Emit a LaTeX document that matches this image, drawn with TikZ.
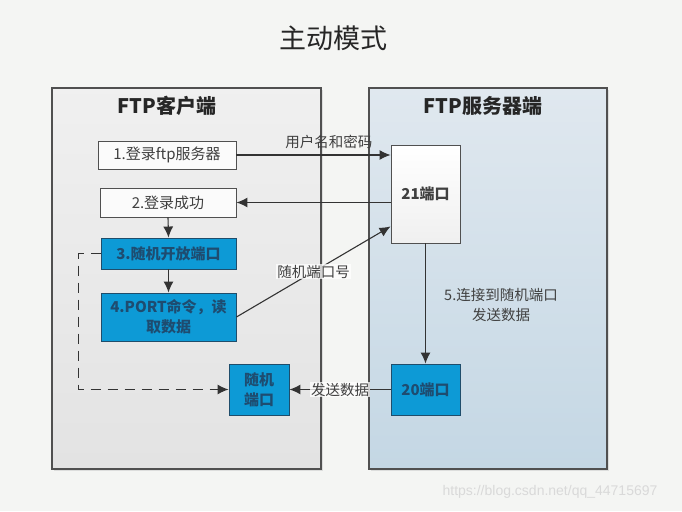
\documentclass[tikz,border=0pt]{standalone}
\usepackage{fontspec}
\setmainfont{Noto Sans CJK SC}
\newfontfamily\markfont{Liberation Sans}
\usepackage{tikz}
\usetikzlibrary{calc,positioning,arrows.meta,shadows}
\definecolor{pagebg}{HTML}{F4F5F3}
\definecolor{edgegray}{HTML}{505050}
\definecolor{portblue}{HTML}{0D9AD6}
\definecolor{portedge}{HTML}{1F4D6B}
\definecolor{txtblue}{HTML}{1E4C70}

\begin{document}
\begin{tikzpicture}[
    x=1pt, y=-1pt,
    panel/.style={draw=edgegray, line width=1.2pt, inner sep=0pt, drop shadow={opacity=0.2, shadow xshift=2pt, shadow yshift=-2pt}},
    whitebox/.style={draw=edgegray, fill=white!97!gray, line width=0.9pt, inner sep=2pt, align=center, font=\fontsize{15}{18}\selectfont, text=black!75},
    bluebox/.style={draw=portedge, fill=portblue, line width=0.9pt, inner sep=2pt, align=center, font=\fontsize{15}{20}\selectfont\bfseries, text=txtblue},
    arrow/.style={-{Latex[length=11pt,width=10pt]}, line width=1.1pt, draw=black!80},
    lbl/.style={font=\fontsize{14.5}{20}\selectfont, text=black!75, inner sep=1pt}
  ]
    \fill[pagebg] (0,0) rectangle (682,511);
    \useasboundingbox (0,0) rectangle (682,511);

    \node[font=\fontsize{27}{30}\selectfont, text=black!85] (title) at (333,38) {主动模式};

    \node[panel, top color=gray!12, bottom color=gray!22, minimum width=269pt, minimum height=381pt] (client) at (186.5,278.5) {};
    \node[panel, top color={rgb,255:red,224;green,232;blue,239}, bottom color={rgb,255:red,196;green,215;blue,228}, minimum width=238pt, minimum height=381pt] (server) at (488,278.5) {};
    \node[font=\fontsize{20}{22}\selectfont\bfseries, text=black!85] (clienttitle) at (167,106) {FTP客户端};
    \node[font=\fontsize{20}{22}\selectfont\bfseries, text=black!85] (servertitle) at (483,106) {FTP服务器端};

    \node[whitebox, minimum width=138pt, minimum height=28pt] (login) at (167,155) {1.登录ftp服务器};
    \node[whitebox, minimum width=136pt, minimum height=29pt] (success) at (168,202.5) {2.登录成功};
    \node[bluebox, minimum width=135pt, minimum height=31pt] (openport) at (168.5,253.5) {3.随机开放端口};
    \node[bluebox, minimum width=135pt, minimum height=48pt] (portcmd) at (168.5,317) {4.PORT命令，读\\取数据};
    \node[bluebox, minimum width=60pt, minimum height=51pt] (rport) at (259,389.5) {随机\\端口};
    \node[whitebox, top color=white, bottom color=gray!12, minimum width=69pt, minimum height=98pt, font=\fontsize{15}{18}\selectfont\bfseries] (p21) at (425.5,194) {21端口};
    \node[bluebox, minimum width=69pt, minimum height=51pt] (p20) at (425.5,389.5) {20端口};

    \draw[arrow] (login.east) -- (login.east -| p21.west) node[pos=0.6, above=5pt, lbl] {用户名和密码};
    \draw[arrow] (success.east -| p21.west) -- (success.east);
    \draw[arrow] (success.south) -- (openport.north);
    \draw[arrow] (openport.south) -- (portcmd.north);
    \draw[arrow] (portcmd.east) -- ([yshift=17pt]p21.south west) node[midway, lbl, fill=white, fill opacity=0.75, text opacity=1] {随机端口号};
    \draw[arrow] (p21.south) -- (p20.north);
    \node[lbl, align=center] (step5) at (501,305) {5.连接到随机端口\\发送数据};
    \draw[arrow] (p20.west) -- (rport.east) node[midway, lbl, fill=white, fill opacity=0.75, text opacity=1] {发送数据};
    \draw[arrow, dash pattern=on 10pt off 7pt] (openport.west) -- ++(-22,0) |- (rport.west);

    \node[font=\markfont\fontsize{14}{16}\selectfont, text=black!15] (mark) at (550,492) {https://blog.csdn.net/qq\_44715697};
\end{tikzpicture}
\end{document}
